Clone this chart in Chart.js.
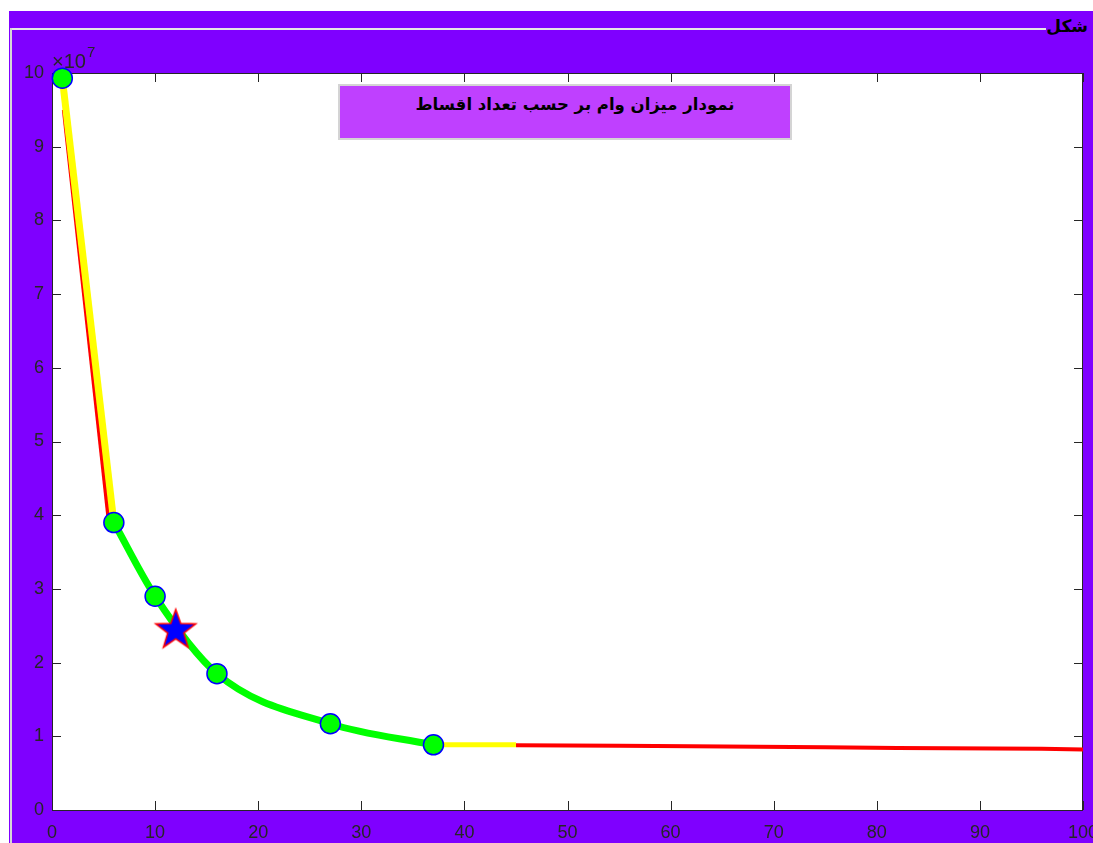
<!DOCTYPE html>
<html>
<head>
<meta charset="utf-8">
<script src="https://cdn.jsdelivr.net/npm/chart.js@4"></script>
<style>
  html,body{margin:0;padding:0;}
  body{width:1093px;height:843px;overflow:hidden;position:relative;background:#ffffff;}
  #bg{position:absolute;left:9px;top:11px;right:0;bottom:0;background:#7F00FF;}
  #hline{position:absolute;left:10px;top:28px;width:1036px;height:2px;background:#e6e6e6;}
  #vline{position:absolute;left:10px;top:28px;width:2px;bottom:0;background:#d6d6d6;}
  #panel{position:absolute;right:5px;top:16px;font:bold 17px "DejaVu Sans";color:#000;direction:rtl;}
  #c{position:absolute;left:0;top:0;}
  #tbox{position:absolute;left:338px;top:84px;width:430px;height:52px;padding-left:20px;background:#BF40FF;border:2px solid #d4d4d4;
        font:bold 16.5px "DejaVu Sans";color:#000;text-align:center;direction:rtl;line-height:38px;}
</style>
</head>
<body>
<div id="bg"></div>
<div id="hline"></div>
<div id="vline"></div>
<div id="panel">شکل</div>
<canvas id="c" width="1093" height="843"></canvas>
<div id="tbox">نمودار میزان وام بر حسب تعداد اقساط</div>
<script>
// ---- data ----
const installments = [1, 6, 10, 16, 27, 37];
const loanAmounts = [99300000, 39000000, 29000000, 18500000, 11700000, 8850000];
const curveX = [6, 10, 16, 27, 37];
const curveY = [39000000, 29000000, 18500000, 11700000, 8850000];
const yellowHeadX = [1, 6];
const yellowHeadY = [99300000, 39000000];
const yellowTailX = [37, 45];
const yellowTailY = [8850000, 8850000];
const redHeadX = [1.15, 5.45];
const redHeadY = [95000000, 40000000];
const redTailX = [45, 55, 62, 75, 82, 96, 100];
const redTailY = [8800000, 8720000, 8650000, 8500000, 8400000, 8300000, 8200000];
const starX = [12];
const starY = [24500000];
const xTicks = [0, 10, 20, 30, 40, 50, 60, 70, 80, 90, 100];
const yTickLabels = ['0','1','2','3','4','5','6','7','8','9','10'];

const pts = (xs, ys) => xs.map((x, i) => ({x: x, y: ys[i]}));

// star marker image
const starImg = document.createElement('canvas');
starImg.width = 46; starImg.height = 46;
(function(){
  const g = starImg.getContext('2d');
  const cx = 23, cy = 24, R = 21, r = 8.5;
  g.beginPath();
  for (let i = 0; i < 10; i++) {
    const rad = (i % 2 === 0) ? R : r;
    const a = -Math.PI / 2 + i * Math.PI / 5;
    const px = cx + rad * Math.cos(a), py = cy + rad * Math.sin(a);
    if (i === 0) g.moveTo(px, py); else g.lineTo(px, py);
  }
  g.closePath();
  g.fillStyle = '#0000FF';
  g.fill();
  g.lineWidth = 1.5;
  g.strokeStyle = '#FF0000';
  g.stroke();
})();

const axisColor = '#262626';
const frameTicks = {
  id: 'frameTicks',
  beforeDraw(chart) {
    const {ctx, chartArea: a} = chart;
    ctx.save();
    ctx.fillStyle = '#ffffff';
    ctx.fillRect(a.left, a.top, a.right - a.left, a.bottom - a.top);
    ctx.restore();
  },
  beforeDatasetsDraw(chart) {
    const {ctx, chartArea: a, scales} = chart;
    ctx.save();
    ctx.strokeStyle = axisColor;
    ctx.lineWidth = 1;
    ctx.strokeRect(a.left + 0.5, a.top + 0.5, a.right - a.left - 1, a.bottom - a.top);
    const L = 9;
    ctx.beginPath();
    scales.x.ticks.forEach(t => {
      const px = Math.round(scales.x.getPixelForValue(t.value)) + 0.5;
      ctx.moveTo(px, a.bottom); ctx.lineTo(px, a.bottom - L);
      ctx.moveTo(px, a.top); ctx.lineTo(px, a.top + L);
    });
    scales.y.ticks.forEach(t => {
      const py = Math.round(scales.y.getPixelForValue(t.value)) + 0.5;
      ctx.moveTo(a.left, py); ctx.lineTo(a.left + L, py);
      ctx.moveTo(a.right, py); ctx.lineTo(a.right - L, py);
    });
    ctx.stroke();
    // exponent label
    ctx.fillStyle = axisColor;
    ctx.textBaseline = 'alphabetic';
    ctx.font = '20px "Liberation Sans", Arial, sans-serif';
    ctx.fillText('\u00D710', a.left, a.top - 5);
    const w = ctx.measureText('\u00D710').width;
    ctx.font = '15px "Liberation Sans", Arial, sans-serif';
    ctx.fillText('7', a.left + w + 1, a.top - 16);
    ctx.restore();
  }
};

new Chart(document.getElementById('c'), {
  type: 'line',
  data: {
    datasets: [
      {data: pts(installments, loanAmounts), showLine: false, pointRadius: 10, pointHoverRadius: 10,
       pointBackgroundColor: '#00FF00', pointBorderColor: '#0000FF', pointBorderWidth: 1.5, clip: false},
      {data: pts(starX, starY), showLine: false, pointStyle: starImg, pointRadius: 20, clip: false},
      {data: pts(curveX, curveY), borderColor: '#00FF00', borderWidth: 7, pointRadius: 0,
       cubicInterpolationMode: 'monotone', fill: false},
      {data: pts(yellowHeadX, yellowHeadY), borderColor: '#FFFF00', borderWidth: 7, pointRadius: 0, fill: false},
      {data: pts(yellowTailX, yellowTailY), borderColor: '#FFFF00', borderWidth: 5, pointRadius: 0, fill: false},
      {data: pts(redHeadX, redHeadY), borderColor: '#FF0000', borderWidth: 4, pointRadius: 0, fill: false},
      {data: pts(redTailX, redTailY), borderColor: '#FF0000', borderWidth: 4, pointRadius: 0, fill: false}
    ]
  },
  options: {
    responsive: false,
    animation: false,
    devicePixelRatio: 1,
    events: [],
    layout: {padding: {top: 73, right: 10, left: 0, bottom: 0}, autoPadding: false},
    plugins: {legend: {display: false}, tooltip: {enabled: false}, title: {display: false}},
    scales: {
      x: {
        type: 'linear', min: 0, max: 100,
        afterBuildTicks: s => { s.ticks = xTicks.map(v => ({value: v})); },
        afterFit: s => { s.height = 33; s.paddingLeft = 0; s.paddingRight = 0; },
        grid: {display: false, drawTicks: false},
        border: {display: false},
        ticks: {color: axisColor, font: {family: '"Liberation Sans", Arial, sans-serif', size: 18}, padding: 12, maxRotation: 0, autoSkip: false}
      },
      y: {
        type: 'linear', min: 0, max: 100000000,
        afterBuildTicks: s => { s.ticks = yTickLabels.map((l, i) => ({value: i * 10000000})); },
        afterFit: s => { s.width = 52; s.paddingTop = 0; s.paddingBottom = 0; },
        grid: {display: false, drawTicks: false},
        border: {display: false},
        ticks: {color: axisColor, font: {family: '"Liberation Sans", Arial, sans-serif', size: 18}, padding: 8,
                autoSkip: false, callback: (v) => yTickLabels[Math.round(v / 10000000)]}
      }
    }
  },
  plugins: [frameTicks]
});
</script>
</body>
</html>
